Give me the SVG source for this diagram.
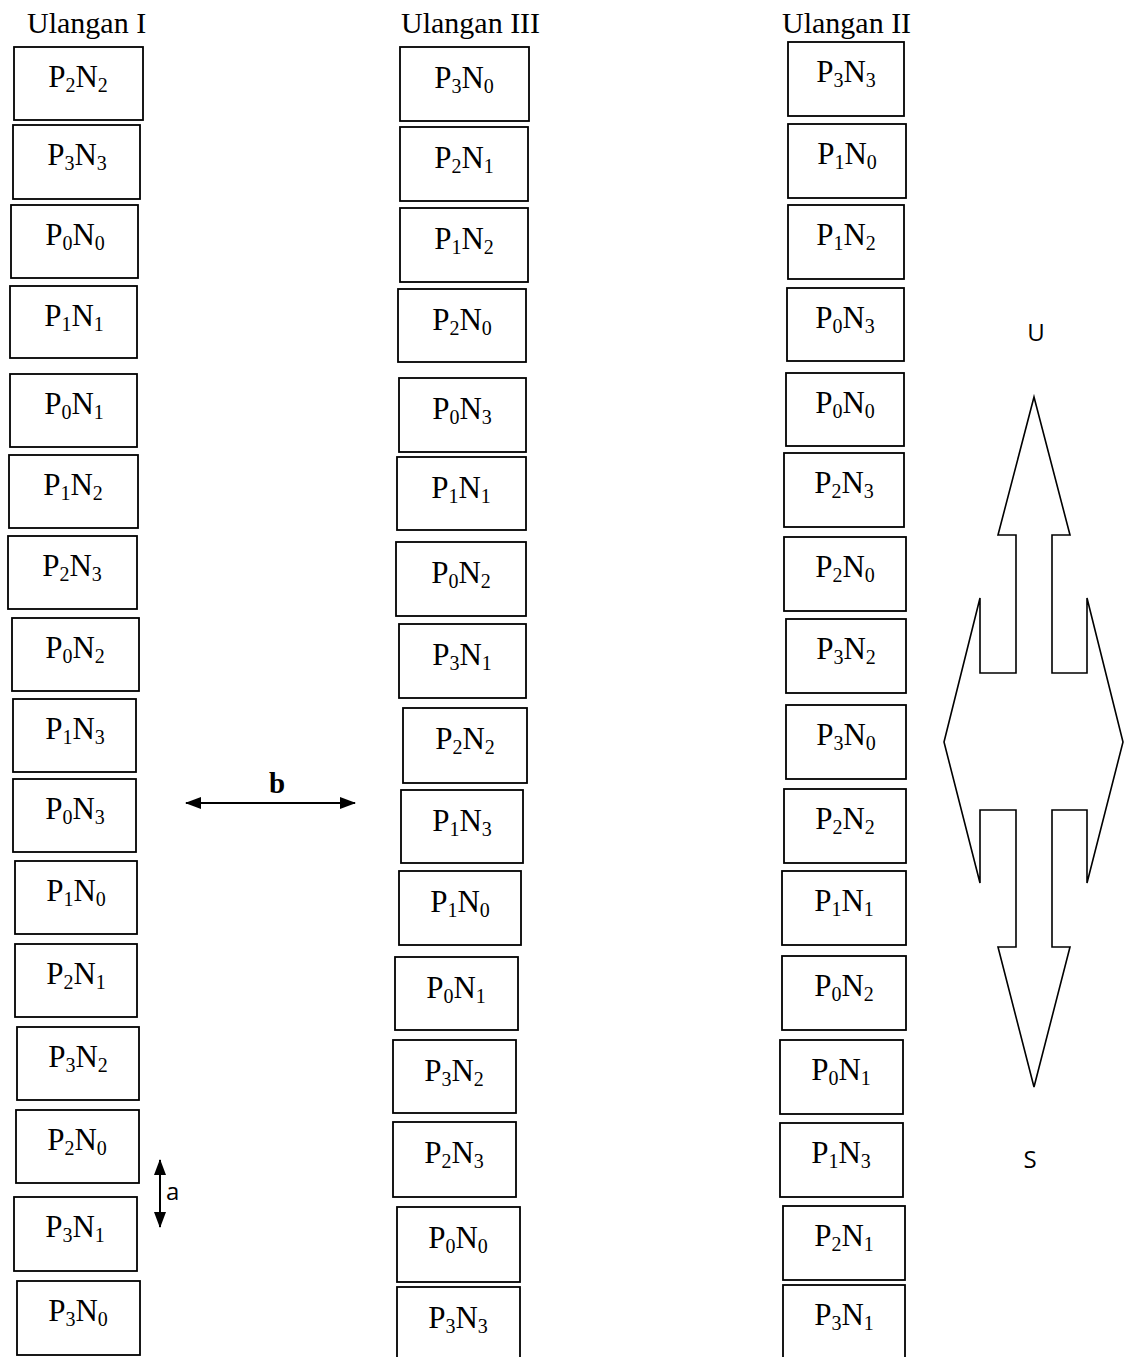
<svg xmlns="http://www.w3.org/2000/svg" width="1131" height="1357" viewBox="0 0 1131 1357">
<style>
.box rect{fill:#fff;stroke:#000;stroke-width:1.8}
.lbl{font-family:"Liberation Serif","Times New Roman",serif;font-size:31px;fill:#000;text-anchor:middle}
.sub{font-size:20px}
.hdr{font-family:"Liberation Serif","Times New Roman",serif;font-size:30px;fill:#000}
.sans{font-family:"Open Sans","Liberation Sans",sans-serif;font-size:24px;fill:#000}
</style>
<defs>
<marker id="ah" viewBox="0 0 16 12" refX="15" refY="6" markerWidth="16" markerHeight="12" orient="auto-start-reverse" markerUnits="userSpaceOnUse">
<path d="M0,0 L16,6 L0,12 z" fill="#000"/>
</marker>
</defs>
<rect width="1131" height="1357" fill="#fff"/>
<text class="hdr" x="27" y="33">Ulangan I</text>
<text class="hdr" x="401" y="33">Ulangan III</text>
<text class="hdr" x="782" y="33">Ulangan II</text>

<!-- Column I -->
<g id="c1n1" class="box"><rect x="14" y="47" width="129" height="73"/><text class="lbl" x="78" y="87">P<tspan class="sub" dy="5">2</tspan><tspan dy="-5">N</tspan><tspan class="sub" dy="5">2</tspan></text></g>
<g id="c1n2" class="box"><rect x="13" y="125" width="127" height="74"/><text class="lbl" x="77" y="165">P<tspan class="sub" dy="5">3</tspan><tspan dy="-5">N</tspan><tspan class="sub" dy="5">3</tspan></text></g>
<g id="c1n3" class="box"><rect x="11" y="205" width="127" height="73"/><text class="lbl" x="75" y="245">P<tspan class="sub" dy="5">0</tspan><tspan dy="-5">N</tspan><tspan class="sub" dy="5">0</tspan></text></g>
<g id="c1n4" class="box"><rect x="10" y="286" width="127" height="72"/><text class="lbl" x="74" y="326">P<tspan class="sub" dy="5">1</tspan><tspan dy="-5">N</tspan><tspan class="sub" dy="5">1</tspan></text></g>
<g id="c1n5" class="box"><rect x="10" y="374" width="127" height="73"/><text class="lbl" x="74" y="414">P<tspan class="sub" dy="5">0</tspan><tspan dy="-5">N</tspan><tspan class="sub" dy="5">1</tspan></text></g>
<g id="c1n6" class="box"><rect x="9" y="455" width="129" height="73"/><text class="lbl" x="73" y="495">P<tspan class="sub" dy="5">1</tspan><tspan dy="-5">N</tspan><tspan class="sub" dy="5">2</tspan></text></g>
<g id="c1n7" class="box"><rect x="8" y="536" width="129" height="73"/><text class="lbl" x="72" y="576">P<tspan class="sub" dy="5">2</tspan><tspan dy="-5">N</tspan><tspan class="sub" dy="5">3</tspan></text></g>
<g id="c1n8" class="box"><rect x="12" y="618" width="127" height="73"/><text class="lbl" x="75" y="658">P<tspan class="sub" dy="5">0</tspan><tspan dy="-5">N</tspan><tspan class="sub" dy="5">2</tspan></text></g>
<g id="c1n9" class="box"><rect x="13" y="699" width="123" height="73"/><text class="lbl" x="75" y="739">P<tspan class="sub" dy="5">1</tspan><tspan dy="-5">N</tspan><tspan class="sub" dy="5">3</tspan></text></g>
<g id="c1n10" class="box"><rect x="13" y="779" width="123" height="73"/><text class="lbl" x="75" y="819">P<tspan class="sub" dy="5">0</tspan><tspan dy="-5">N</tspan><tspan class="sub" dy="5">3</tspan></text></g>
<g id="c1n11" class="box"><rect x="15" y="861" width="122" height="73"/><text class="lbl" x="76" y="901">P<tspan class="sub" dy="5">1</tspan><tspan dy="-5">N</tspan><tspan class="sub" dy="5">0</tspan></text></g>
<g id="c1n12" class="box"><rect x="15" y="944" width="122" height="73"/><text class="lbl" x="76" y="984">P<tspan class="sub" dy="5">2</tspan><tspan dy="-5">N</tspan><tspan class="sub" dy="5">1</tspan></text></g>
<g id="c1n13" class="box"><rect x="17" y="1027" width="122" height="73"/><text class="lbl" x="78" y="1067">P<tspan class="sub" dy="5">3</tspan><tspan dy="-5">N</tspan><tspan class="sub" dy="5">2</tspan></text></g>
<g id="c1n14" class="box"><rect x="16" y="1110" width="123" height="73"/><text class="lbl" x="77" y="1150">P<tspan class="sub" dy="5">2</tspan><tspan dy="-5">N</tspan><tspan class="sub" dy="5">0</tspan></text></g>
<g id="c1n15" class="box"><rect x="14" y="1197" width="123" height="74"/><text class="lbl" x="75" y="1237">P<tspan class="sub" dy="5">3</tspan><tspan dy="-5">N</tspan><tspan class="sub" dy="5">1</tspan></text></g>
<g id="c1n16" class="box"><rect x="17" y="1281" width="123" height="74"/><text class="lbl" x="78" y="1321">P<tspan class="sub" dy="5">3</tspan><tspan dy="-5">N</tspan><tspan class="sub" dy="5">0</tspan></text></g>

<!-- Column III -->
<g id="c3n1" class="box"><rect x="400" y="47" width="129" height="74"/><text class="lbl" x="464" y="88">P<tspan class="sub" dy="5">3</tspan><tspan dy="-5">N</tspan><tspan class="sub" dy="5">0</tspan></text></g>
<g id="c3n2" class="box"><rect x="400" y="127" width="128" height="74"/><text class="lbl" x="464" y="168">P<tspan class="sub" dy="5">2</tspan><tspan dy="-5">N</tspan><tspan class="sub" dy="5">1</tspan></text></g>
<g id="c3n3" class="box"><rect x="400" y="208" width="128" height="74"/><text class="lbl" x="464" y="249">P<tspan class="sub" dy="5">1</tspan><tspan dy="-5">N</tspan><tspan class="sub" dy="5">2</tspan></text></g>
<g id="c3n4" class="box"><rect x="398" y="289" width="128" height="73"/><text class="lbl" x="462" y="330">P<tspan class="sub" dy="5">2</tspan><tspan dy="-5">N</tspan><tspan class="sub" dy="5">0</tspan></text></g>
<g id="c3n5" class="box"><rect x="399" y="378" width="127" height="74"/><text class="lbl" x="462" y="419">P<tspan class="sub" dy="5">0</tspan><tspan dy="-5">N</tspan><tspan class="sub" dy="5">3</tspan></text></g>
<g id="c3n6" class="box"><rect x="397" y="457" width="129" height="73"/><text class="lbl" x="461" y="498">P<tspan class="sub" dy="5">1</tspan><tspan dy="-5">N</tspan><tspan class="sub" dy="5">1</tspan></text></g>
<g id="c3n7" class="box"><rect x="396" y="542" width="130" height="74"/><text class="lbl" x="461" y="583">P<tspan class="sub" dy="5">0</tspan><tspan dy="-5">N</tspan><tspan class="sub" dy="5">2</tspan></text></g>
<g id="c3n8" class="box"><rect x="399" y="624" width="127" height="74"/><text class="lbl" x="462" y="665">P<tspan class="sub" dy="5">3</tspan><tspan dy="-5">N</tspan><tspan class="sub" dy="5">1</tspan></text></g>
<g id="c3n9" class="box"><rect x="403" y="708" width="124" height="75"/><text class="lbl" x="465" y="749">P<tspan class="sub" dy="5">2</tspan><tspan dy="-5">N</tspan><tspan class="sub" dy="5">2</tspan></text></g>
<g id="c3n10" class="box"><rect x="401" y="790" width="122" height="73"/><text class="lbl" x="462" y="831">P<tspan class="sub" dy="5">1</tspan><tspan dy="-5">N</tspan><tspan class="sub" dy="5">3</tspan></text></g>
<g id="c3n11" class="box"><rect x="399" y="871" width="122" height="74"/><text class="lbl" x="460" y="912">P<tspan class="sub" dy="5">1</tspan><tspan dy="-5">N</tspan><tspan class="sub" dy="5">0</tspan></text></g>
<g id="c3n12" class="box"><rect x="395" y="957" width="123" height="73"/><text class="lbl" x="456" y="998">P<tspan class="sub" dy="5">0</tspan><tspan dy="-5">N</tspan><tspan class="sub" dy="5">1</tspan></text></g>
<g id="c3n13" class="box"><rect x="393" y="1040" width="123" height="73"/><text class="lbl" x="454" y="1081">P<tspan class="sub" dy="5">3</tspan><tspan dy="-5">N</tspan><tspan class="sub" dy="5">2</tspan></text></g>
<g id="c3n14" class="box"><rect x="393" y="1122" width="123" height="75"/><text class="lbl" x="454" y="1163">P<tspan class="sub" dy="5">2</tspan><tspan dy="-5">N</tspan><tspan class="sub" dy="5">3</tspan></text></g>
<g id="c3n15" class="box"><rect x="397" y="1207" width="123" height="75"/><text class="lbl" x="458" y="1248">P<tspan class="sub" dy="5">0</tspan><tspan dy="-5">N</tspan><tspan class="sub" dy="5">0</tspan></text></g>
<g id="c3n16" class="box"><rect x="397" y="1287" width="123" height="80"/><text class="lbl" x="458" y="1328">P<tspan class="sub" dy="5">3</tspan><tspan dy="-5">N</tspan><tspan class="sub" dy="5">3</tspan></text></g>

<!-- Column II -->
<g id="c2n1" class="box"><rect x="788" y="42" width="116" height="74"/><text class="lbl" x="846" y="82">P<tspan class="sub" dy="5">3</tspan><tspan dy="-5">N</tspan><tspan class="sub" dy="5">3</tspan></text></g>
<g id="c2n2" class="box"><rect x="788" y="124" width="118" height="74"/><text class="lbl" x="847" y="164">P<tspan class="sub" dy="5">1</tspan><tspan dy="-5">N</tspan><tspan class="sub" dy="5">0</tspan></text></g>
<g id="c2n3" class="box"><rect x="788" y="205" width="116" height="74"/><text class="lbl" x="846" y="245">P<tspan class="sub" dy="5">1</tspan><tspan dy="-5">N</tspan><tspan class="sub" dy="5">2</tspan></text></g>
<g id="c2n4" class="box"><rect x="787" y="288" width="117" height="73"/><text class="lbl" x="845" y="328">P<tspan class="sub" dy="5">0</tspan><tspan dy="-5">N</tspan><tspan class="sub" dy="5">3</tspan></text></g>
<g id="c2n5" class="box"><rect x="786" y="373" width="118" height="73"/><text class="lbl" x="845" y="413">P<tspan class="sub" dy="5">0</tspan><tspan dy="-5">N</tspan><tspan class="sub" dy="5">0</tspan></text></g>
<g id="c2n6" class="box"><rect x="784" y="453" width="120" height="74"/><text class="lbl" x="844" y="493">P<tspan class="sub" dy="5">2</tspan><tspan dy="-5">N</tspan><tspan class="sub" dy="5">3</tspan></text></g>
<g id="c2n7" class="box"><rect x="784" y="537" width="122" height="74"/><text class="lbl" x="845" y="577">P<tspan class="sub" dy="5">2</tspan><tspan dy="-5">N</tspan><tspan class="sub" dy="5">0</tspan></text></g>
<g id="c2n8" class="box"><rect x="786" y="619" width="120" height="74"/><text class="lbl" x="846" y="659">P<tspan class="sub" dy="5">3</tspan><tspan dy="-5">N</tspan><tspan class="sub" dy="5">2</tspan></text></g>
<g id="c2n9" class="box"><rect x="786" y="705" width="120" height="74"/><text class="lbl" x="846" y="745">P<tspan class="sub" dy="5">3</tspan><tspan dy="-5">N</tspan><tspan class="sub" dy="5">0</tspan></text></g>
<g id="c2n10" class="box"><rect x="784" y="789" width="122" height="74"/><text class="lbl" x="845" y="829">P<tspan class="sub" dy="5">2</tspan><tspan dy="-5">N</tspan><tspan class="sub" dy="5">2</tspan></text></g>
<g id="c2n11" class="box"><rect x="782" y="871" width="124" height="74"/><text class="lbl" x="844" y="911">P<tspan class="sub" dy="5">1</tspan><tspan dy="-5">N</tspan><tspan class="sub" dy="5">1</tspan></text></g>
<g id="c2n12" class="box"><rect x="782" y="956" width="124" height="74"/><text class="lbl" x="844" y="996">P<tspan class="sub" dy="5">0</tspan><tspan dy="-5">N</tspan><tspan class="sub" dy="5">2</tspan></text></g>
<g id="c2n13" class="box"><rect x="780" y="1040" width="123" height="74"/><text class="lbl" x="841" y="1080">P<tspan class="sub" dy="5">0</tspan><tspan dy="-5">N</tspan><tspan class="sub" dy="5">1</tspan></text></g>
<g id="c2n14" class="box"><rect x="780" y="1123" width="123" height="74"/><text class="lbl" x="841" y="1163">P<tspan class="sub" dy="5">1</tspan><tspan dy="-5">N</tspan><tspan class="sub" dy="5">3</tspan></text></g>
<g id="c2n15" class="box"><rect x="783" y="1206" width="122" height="74"/><text class="lbl" x="844" y="1246">P<tspan class="sub" dy="5">2</tspan><tspan dy="-5">N</tspan><tspan class="sub" dy="5">1</tspan></text></g>
<g id="c2n16" class="box"><rect x="783" y="1285" width="122" height="80"/><text class="lbl" x="844" y="1325">P<tspan class="sub" dy="5">3</tspan><tspan dy="-5">N</tspan><tspan class="sub" dy="5">1</tspan></text></g>

<!-- Compass arrow -->
<g id="compass">
<polygon points="1034,397 1070,535 1052,535 1052,673 1087,673 1087,598 1123,742 1087,883 1087,810 1052,810 1052,947 1070,947 1034,1087 998,947 1016,947 1016,810 980,810 980,883 944,742 980,598 980,673 1016,673 1016,535 998,535" fill="#fff" stroke="#000" stroke-width="1.6" stroke-linejoin="miter"/>
<text class="sans" x="1036" y="341" text-anchor="middle">U</text>
<text class="sans" x="1030" y="1168" text-anchor="middle">S</text>
</g>

<!-- Dimension connectors -->
<g id="connectors">
<line x1="186" y1="803" x2="355" y2="803" stroke="#000" stroke-width="2" marker-start="url(#ah)" marker-end="url(#ah)"/>
<line x1="160" y1="1160" x2="160" y2="1227" stroke="#000" stroke-width="2" marker-start="url(#ah)" marker-end="url(#ah)"/>
</g>
<text x="277" y="793" font-family="Liberation Serif, Times New Roman, serif" font-size="29" font-weight="bold" text-anchor="middle">b</text>
<text class="sans" x="166" y="1200">a</text>
</svg>
